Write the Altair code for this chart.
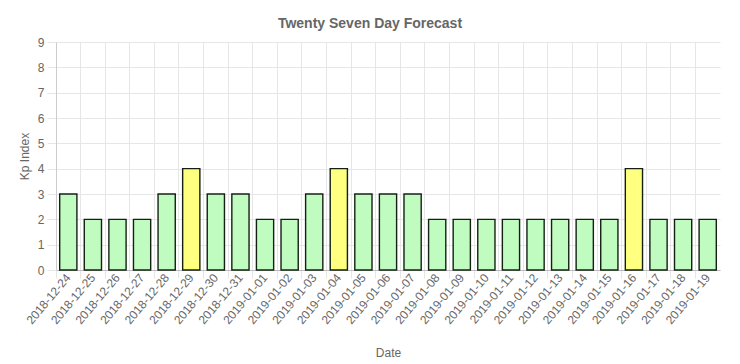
import altair as alt
import pandas as pd

dates = ["2018-12-24", "2018-12-25", "2018-12-26", "2018-12-27", "2018-12-28",
         "2018-12-29", "2018-12-30", "2018-12-31", "2019-01-01", "2019-01-02",
         "2019-01-03", "2019-01-04", "2019-01-05", "2019-01-06", "2019-01-07",
         "2019-01-08", "2019-01-09", "2019-01-10", "2019-01-11", "2019-01-12",
         "2019-01-13", "2019-01-14", "2019-01-15", "2019-01-16", "2019-01-17",
         "2019-01-18", "2019-01-19"]
kp = [3, 2, 2, 2, 3, 4, 3, 3, 2, 2, 3, 4, 3, 3, 3, 2, 2, 2, 2, 2, 2, 2, 2, 4, 2, 2, 2]

df = pd.DataFrame({"date": dates, "kp": kp})

FONT = "Liberation Sans"
GRAY = "#666666"
GRID = "#e6e6e6"

xscale = alt.Scale(domain=dates, paddingInner=0, paddingOuter=0)
yscale = alt.Scale(domain=[0, 9], nice=False)

yaxis = alt.Axis(title="Kp Index", values=list(range(10)), labelOverlap=False,
                 grid=True, gridColor=GRID, tickColor=GRID, tickSize=9,
                 domainColor="#cccccc", labelFontSize=12, labelColor=GRAY,
                 titleColor=GRAY, titleFontSize=12, titleFontWeight="normal",
                 labelFont=FONT, titleFont=FONT, labelPadding=3, titlePadding=6)

base = alt.Chart(df)

bars = base.mark_bar(
    width=alt.RelativeBandSize(0.7), stroke="#142014", strokeWidth=1.4
).encode(
    x=alt.X("date:N", scale=xscale, sort=dates,
            axis=alt.Axis(title="Date", orient="bottom", labelAngle=-50,
                          labelAlign="right", labelBaseline="middle",
                          labelPadding=5, ticks=False, grid=False, domain=False,
                          labelFontSize=12, labelColor=GRAY, titleColor=GRAY,
                          titleFontSize=12, titleFontWeight="normal",
                          labelFont=FONT, titleFont=FONT, titlePadding=22,
                          labelOverlap=False)),
    y=alt.Y("kp:Q", scale=yscale, axis=yaxis),
    color=alt.condition(alt.datum.kp >= 4, alt.value("#ffff80"), alt.value("#c0fcc0")),
)

grid = base.mark_bar(opacity=0).encode(
    x=alt.X("date:N", scale=xscale, sort=dates,
            axis=alt.Axis(title=None, orient="bottom", labels=False, ticks=True,
                          tickSize=8, tickColor=GRID, grid=True, gridColor=GRID,
                          bandPosition=0, domain=True, domainColor="#bbbbbb")),
    y=alt.Y("kp:Q", scale=yscale, axis=yaxis),
)

chart = alt.layer(grid, bars).resolve_axis(x="independent").properties(
    width=664, height=228,
    autosize=alt.AutoSizeParams(type="none"),
    padding={"left": 48, "top": 34, "right": 12, "bottom": 90},
    title=alt.Title("Twenty Seven Day Forecast", fontSize=14, fontWeight="bold",
                    color=GRAY, font=FONT, anchor="middle", offset=5, dx=-18),
).configure_view(stroke=None)

chart.save("out.html", embed_options={"renderer": "svg", "actions": False})
